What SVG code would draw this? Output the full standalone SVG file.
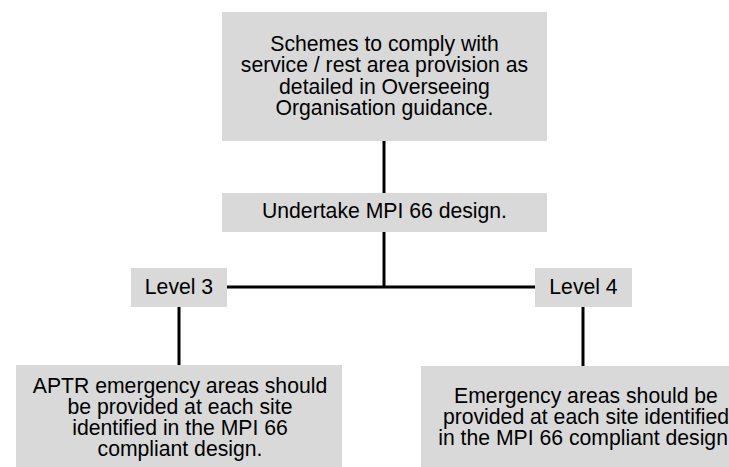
<svg xmlns="http://www.w3.org/2000/svg" width="729" height="467" viewBox="0 0 729 467">
<style>
.box{fill:#d9d9d9;}
.t{font-family:"Liberation Sans",Arial,sans-serif;font-size:21.2px;fill:#000;text-anchor:middle;}
.c{stroke:#000;stroke-width:3;fill:none;}
</style>
<rect width="729" height="467" fill="#fff"/>
<g id="connectors">
<line class="c" x1="384" y1="141" x2="384" y2="193"/>
<line class="c" x1="384" y1="232" x2="384" y2="288"/>
<line class="c" x1="227" y1="287" x2="535" y2="287"/>
<line class="c" x1="179" y1="307" x2="179" y2="365"/>
<line class="c" x1="583" y1="307" x2="583" y2="366"/>
</g>
<g id="schemes">
<rect class="box" x="222" y="12" width="325" height="129"/>
<text class="t" x="384.5" y="50.5">Schemes to comply with</text>
<text class="t" x="384.5" y="72">service / rest area provision as</text>
<text class="t" x="384.5" y="93.5">detailed in Overseeing</text>
<text class="t" x="384.5" y="115">Organisation guidance.</text>
</g>
<g id="undertake">
<rect class="box" x="222" y="193" width="325" height="39"/>
<text class="t" x="384.5" y="218">Undertake MPI 66 design.</text>
</g>
<g id="level3">
<rect class="box" x="131" y="268" width="96" height="39"/>
<text class="t" x="179" y="293.5">Level 3</text>
</g>
<g id="level4">
<rect class="box" x="535" y="268" width="97" height="39"/>
<text class="t" x="583.5" y="293.5">Level 4</text>
</g>
<g id="aptr">
<rect class="box" x="16" y="365" width="326" height="110"/>
<text class="t" x="180" y="393">APTR emergency areas should</text>
<text class="t" x="180" y="414">be provided at each site</text>
<text class="t" x="180" y="435">identified in the MPI 66</text>
<text class="t" x="180" y="456">compliant design.</text>
</g>
<g id="level4-emergency">
<rect class="box" x="421" y="366" width="330" height="110"/>
<text class="t" x="586" y="403">Emergency areas should be</text>
<text class="t" x="586" y="424">provided at each site identified</text>
<text class="t" x="586" y="445">in the MPI 66 compliant design.</text>
</g>
</svg>
